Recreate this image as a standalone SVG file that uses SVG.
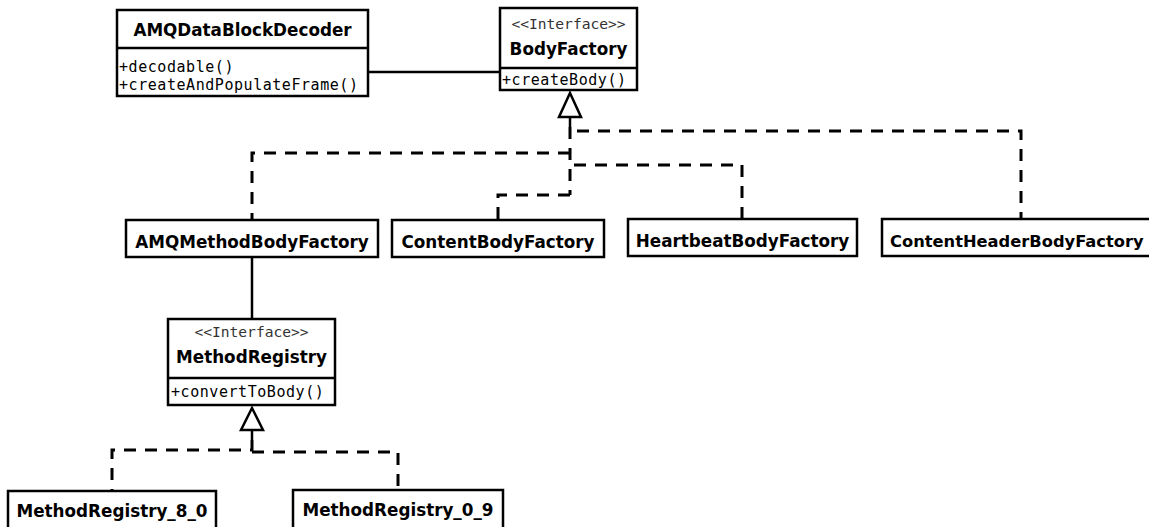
<svg xmlns="http://www.w3.org/2000/svg" width="1149" height="527" viewBox="0 0 1149 527">
  <style>
    .box { fill: #ffffff; stroke: #000000; stroke-width: 2.5; }
    .sep { stroke: #000000; stroke-width: 2.5; }
    .title { font-family: "DejaVu Sans", "Liberation Sans", sans-serif; font-weight: bold; font-size: 16.8px; fill: #000000; text-anchor: middle; }
    .stereo { font-family: "DejaVu Sans Mono", "Liberation Mono", monospace; font-size: 14.6px; fill: #333333; text-anchor: middle; }
    .op { font-family: "DejaVu Sans Mono", "Liberation Mono", monospace; font-size: 15px; letter-spacing: 0.55px; fill: #000000; }
    .assoc { fill: none; stroke: #000000; stroke-width: 2.5; }
    .realize { fill: none; stroke: #000000; stroke-width: 3; stroke-dasharray: 12 9; }
    .head { fill: #ffffff; stroke: #000000; stroke-width: 2.5; stroke-linejoin: miter; }
  </style>

  <rect width="1149" height="527" fill="#ffffff"/>

  <!-- connectors: associations, realizations and their hollow triangle heads -->
  <g id="connectors">
    <path class="assoc" d="M368,72 H500"/>
    <path class="assoc" d="M252,258 V319"/>

    <!-- realizations of BodyFactory -->
    <path class="assoc" d="M570,117 V127"/>
    <path class="realize" d="M570,127 V195"/>
    <path class="realize" d="M577,131 H1021 V219"/>
    <path class="realize" d="M570,153 H252 V220"/>
    <path class="realize" d="M574,165 H742 V219"/>
    <path class="realize" d="M570,195 H498 V221"/>
    <polygon class="head" points="570,93 581,117 559,117"/>

    <!-- realizations of MethodRegistry -->
    <path class="assoc" d="M252,430 V440"/>
    <path class="realize" d="M252,440 V450 H112 V491"/>
    <path class="realize" d="M252,452 H398 V490"/>
    <polygon class="head" points="252,408 263,430 241,430"/>
  </g>

  <g id="AMQDataBlockDecoder">
    <rect class="box" x="117" y="10" width="251" height="86"/>
    <line class="sep" x1="117" y1="48" x2="368" y2="48"/>
    <text class="title" x="242.5" y="36">AMQDataBlockDecoder</text>
    <text class="op" x="119" y="72">+decodable()</text>
    <text class="op" x="119" y="90">+createAndPopulateFrame()</text>
  </g>

  <g id="BodyFactory">
    <rect class="box" x="500" y="8" width="137" height="82"/>
    <line class="sep" x1="500" y1="68" x2="637" y2="68"/>
    <text class="stereo" x="568.5" y="29">&lt;&lt;Interface&gt;&gt;</text>
    <text class="title" x="568.5" y="55">BodyFactory</text>
    <text class="op" x="502" y="85">+createBody()</text>
  </g>

  <g id="AMQMethodBodyFactory">
    <rect class="box" x="126" y="220" width="252" height="37"/>
    <text class="title" x="252" y="248">AMQMethodBodyFactory</text>
  </g>

  <g id="ContentBodyFactory">
    <rect class="box" x="392" y="220" width="212" height="37"/>
    <text class="title" x="498" y="248">ContentBodyFactory</text>
  </g>

  <g id="HeartbeatBodyFactory">
    <rect class="box" x="628" y="219" width="229" height="37"/>
    <text class="title" x="742.5" y="247">HeartbeatBodyFactory</text>
  </g>

  <g id="ContentHeaderBodyFactory">
    <rect class="box" x="882" y="219" width="278" height="37"/>
    <text class="title" x="890" y="247" style="text-anchor: start; font-size: 16.3px">ContentHeaderBodyFactory</text>
  </g>

  <g id="MethodRegistry">
    <rect class="box" x="168" y="319" width="167" height="86"/>
    <line class="sep" x1="168" y1="378" x2="335" y2="378"/>
    <text class="stereo" x="251.5" y="337">&lt;&lt;Interface&gt;&gt;</text>
    <text class="title" x="251.5" y="363">MethodRegistry</text>
    <text class="op" x="171" y="397">+convertToBody()</text>
  </g>

  <g id="MethodRegistry_8_0">
    <rect class="box" x="8" y="491" width="208" height="50"/>
    <text class="title" x="112" y="517">MethodRegistry_8_0</text>
  </g>

  <g id="MethodRegistry_0_9">
    <rect class="box" x="293" y="490" width="210" height="50"/>
    <text class="title" x="398" y="516">MethodRegistry_0_9</text>
  </g>
</svg>
